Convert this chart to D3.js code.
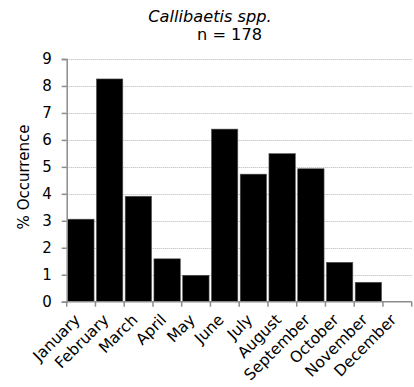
<!DOCTYPE html>
<html>
<head>
<meta charset="utf-8">
<script src="https://cdn.jsdelivr.net/npm/d3@7/dist/d3.min.js"></script>
<style>
  html, body { margin: 0; padding: 0; background: #fff; }
  svg { display: block; font-family: "DejaVu Sans", Verdana, sans-serif; }
</style>
</head>
<body>
<svg id="chart" width="414" height="387"></svg>
<script>
// Monthly share of Callibaetis spp. records (%)
const months = ["January", "February", "March", "April", "May", "June",
                "July", "August", "September", "October", "November", "December"];
const occurrence = [3.06, 8.26, 3.91, 1.59, 0.98, 6.40, 4.73, 5.49, 4.93, 1.46, 0.72, 0];
const yTicks = [0, 1, 2, 3, 4, 5, 6, 7, 8, 9];
const titleText = "Callibaetis spp.";
const subtitleText = "n = 178";
const yAxisTitle = "% Occurrence";

const svg = d3.select("#chart");
const plotLeft = 66.7, plotRight = 411.7, plotTop = 59, plotBottom = 301.7;

const x = d3.scaleBand().domain(months).range([plotLeft, plotRight]).paddingInner(0).paddingOuter(0);
const y = d3.scaleLinear().domain([0, 9]).range([plotBottom, plotTop]);

// dotted horizontal gridlines
svg.append("g")
  .selectAll("line")
  .data(yTicks.filter(d => d > 0))
  .join("line")
  .attr("x1", plotLeft).attr("x2", plotRight)
  .attr("y1", d => Math.round(y(d)) + 0.5).attr("y2", d => Math.round(y(d)) + 0.5)
  .attr("stroke", "#b5b5b5")
  .attr("stroke-width", 1)
  .attr("stroke-dasharray", "1,1");

// bars
svg.append("g")
  .selectAll("rect")
  .data(months.map((m, i) => ({ m, v: occurrence[i] })))
  .join("rect")
  .attr("x", d => x(d.m) + 1)
  .attr("width", x.bandwidth() - 2.4)
  .attr("y", d => y(d.v))
  .attr("height", d => plotBottom - y(d.v))
  .attr("fill", "#000")
  .attr("stroke", "#555")
  .attr("stroke-width", 0.6);

// y axis
const yAxis = svg.append("g")
  .attr("transform", `translate(${plotLeft},0)`)
  .call(d3.axisLeft(y).tickValues(yTicks).tickSize(5).tickPadding(10).tickFormat(d3.format("d")));
yAxis.select(".domain").attr("stroke", "#8c8c8c").attr("stroke-width", 1.5);
yAxis.selectAll(".tick line").attr("stroke", "#8c8c8c").attr("stroke-width", 1.5);
yAxis.selectAll(".tick text")
  .attr("font-family", "DejaVu Sans, Verdana, sans-serif")
  .attr("font-size", 15)
  .attr("fill", "#000");

// x axis: baseline with ticks at category boundaries
const xg = svg.append("g");
xg.append("line")
  .attr("x1", plotLeft).attr("x2", plotRight)
  .attr("y1", plotBottom).attr("y2", plotBottom)
  .attr("stroke", "#8c8c8c").attr("stroke-width", 1.5);
const bounds = months.map(m => x(m)).concat([x(months[months.length - 1]) + x.bandwidth()]);
xg.selectAll("line.tk")
  .data(bounds)
  .join("line")
  .attr("class", "tk")
  .attr("x1", d => d).attr("x2", d => d)
  .attr("y1", plotBottom).attr("y2", plotBottom + 5)
  .attr("stroke", "#8c8c8c").attr("stroke-width", 1.5);

xg.selectAll("text")
  .data(months)
  .join("text")
  .attr("transform", d => `translate(${x(d) + x.bandwidth() / 2},${plotBottom + 19}) rotate(-45)`)
  .attr("text-anchor", "end")
  .attr("font-size", 15.5)
  .attr("fill", "#000")
  .text(d => d);

// y axis title
svg.append("text")
  .attr("transform", `translate(29,177) rotate(-90)`)
  .attr("text-anchor", "middle")
  .attr("font-size", 15)
  .attr("fill", "#000")
  .text(yAxisTitle);

// title
svg.append("text")
  .attr("x", 210).attr("y", 22)
  .attr("text-anchor", "middle")
  .attr("font-size", 16.2)
  .attr("font-style", "italic")
  .attr("fill", "#000")
  .text(titleText);
svg.append("text")
  .attr("x", 229.5).attr("y", 40)
  .attr("text-anchor", "middle")
  .attr("font-size", 16.2)
  .attr("fill", "#000")
  .text(subtitleText);
</script>
</body>
</html>
